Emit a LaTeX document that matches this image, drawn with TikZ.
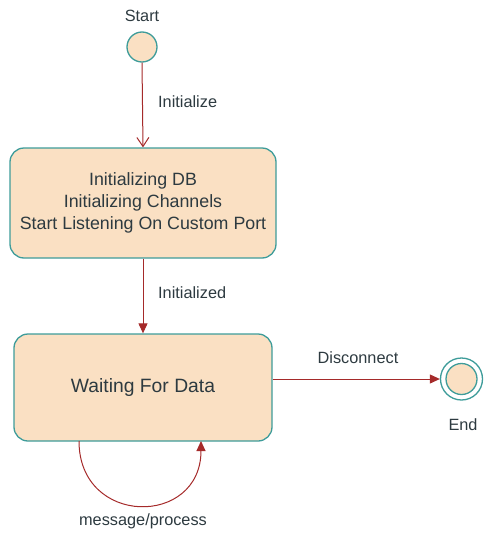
\documentclass[tikz,border=0pt]{standalone}
\usepackage{fontspec}
\setmainfont{Liberation Sans}
\usetikzlibrary{arrows.meta}
\definecolor{peach}{HTML}{FAE0C3}
\definecolor{teal2}{HTML}{3E9C9A}
\definecolor{arr}{HTML}{A52A2A}
\definecolor{txt}{HTML}{2D3A40}
\begin{document}
\begin{tikzpicture}[x=1pt,y=-1pt,
  state/.style={draw=teal2,fill=peach,line width=1.3pt,rounded corners=14pt,text=txt,font=\fontsize{17.8}{21}\selectfont,align=center,inner sep=0pt},
  lbl/.style={text=txt,font=\fontsize{16.3}{19}\selectfont,inner sep=0pt},
  conn/.style={draw=arr,line width=1pt,-{Triangle[length=10pt,width=9pt]}},
  openconn/.style={draw=arr,line width=1pt,-{Straight Barb[length=9pt,width=12pt,line width=1pt]}}]
\useasboundingbox (0,0) rectangle (483,533);
\node[circle,draw=teal2,fill=peach,line width=1.3pt,minimum size=30pt,inner sep=0pt] (start) at (142,47) {};
\node[lbl] (startl) at (142,16) {Start};
\node[state,minimum width=266pt,minimum height=110pt] (init) at (143,203)
  {Initializing DB\\[1pt]Initializing Channels\\[1pt]Start Listening On Custom Port};
\node[state,minimum width=258pt,minimum height=107pt,font=\fontsize{19.3}{23}\selectfont] (wait) at (143,387.5) {Waiting For Data};
\node[circle,draw=teal2,line width=1.3pt,minimum size=42pt,inner sep=0pt,fill=white] (endo) at (461.5,379) {};
\node[circle,draw=teal2,fill=peach,line width=1.3pt,minimum size=31pt,inner sep=0pt] (endi) at (461.5,379) {};
\node[lbl] (endl) at (463,425) {End};
\draw[openconn] (start.south) -- (init.north);
\node[lbl,anchor=west] (l1) at (158,102) {Initialize};
\draw[conn] (init.south) -- (wait.north);
\node[lbl,anchor=west] (l2) at (158,293) {Initialized};
\draw[conn] (wait.east |- endo.west) -- (endo.west);
\node[lbl] (l3) at (358,358) {Disconnect};
\coordinate (s) at (79,441);
\coordinate (e) at (201,441);
\draw[conn] (s) .. controls (79,527) and (201,527) .. (e);
\node[lbl] (l4) at (143,521) {message/process};
\end{tikzpicture}
\end{document}
